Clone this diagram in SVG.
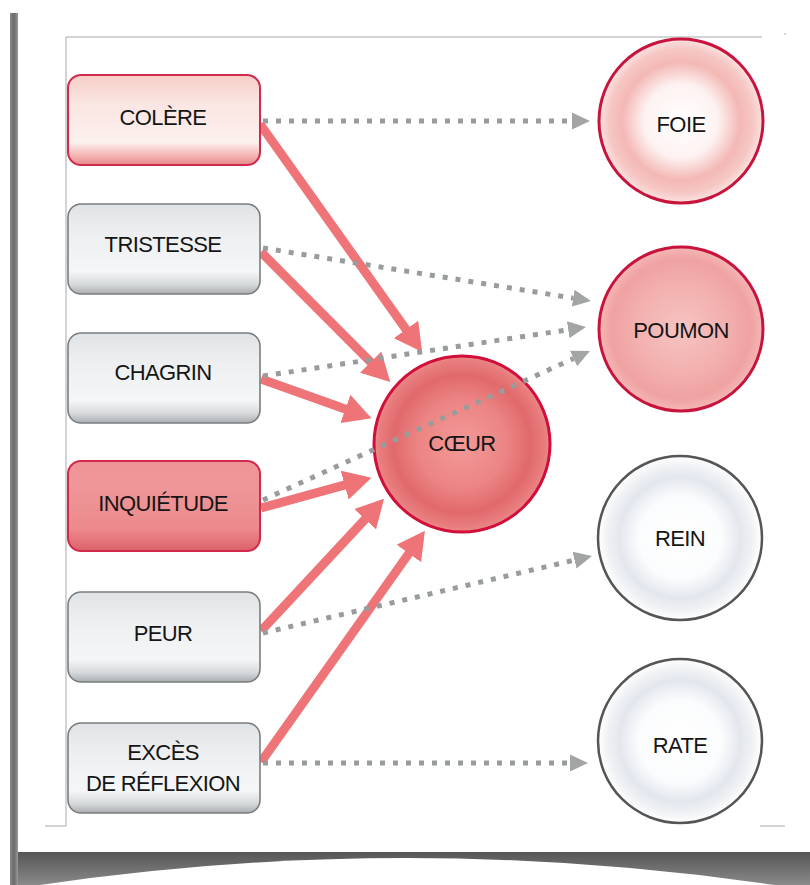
<svg xmlns="http://www.w3.org/2000/svg" width="810" height="885" viewBox="0 0 810 885">
<defs>
<style>
.lbl{font-family:"Liberation Sans",Arial,sans-serif;font-size:22px;fill:#151515;text-anchor:middle;letter-spacing:-0.6px}
.red{stroke:#ee7478;stroke-width:9;fill:none;marker-end:url(#rh)}
.dot{stroke:#999c9c;stroke-width:5;stroke-dasharray:5 8;fill:none;marker-end:url(#gh)}
.frame{stroke:#a8a8a8;stroke-width:1;fill:none}
.boxr{stroke:#d22a4c;stroke-width:2}
.boxg{stroke:#7a7d7f;stroke-width:1.6}
</style>
<marker id="rh" markerUnits="userSpaceOnUse" markerWidth="30" markerHeight="30" refX="4" refY="14" orient="auto" viewBox="0 0 28 28">
<path d="M0,0 L26,14 L0,28 Z" fill="#ee7478"/>
</marker>
<marker id="gh" markerUnits="userSpaceOnUse" markerWidth="20" markerHeight="18" refX="0" refY="8.5" orient="auto" viewBox="0 0 20 17">
<path d="M0,0 L18,8.5 L0,17 Z" fill="#a3a5a5"/>
</marker>
<linearGradient id="gGray" x1="0" y1="0" x2="0" y2="1">
<stop offset="0" stop-color="#e0e3e5"/><stop offset="0.3" stop-color="#eceef0"/><stop offset="0.75" stop-color="#f5f6f7"/><stop offset="0.9" stop-color="#d5d8da"/><stop offset="1" stop-color="#a9adaf"/>
</linearGradient>
<linearGradient id="gPink" x1="0" y1="0" x2="0" y2="1">
<stop offset="0" stop-color="#f6cdc6"/><stop offset="0.3" stop-color="#fae5e1"/><stop offset="0.75" stop-color="#fcf0ef"/><stop offset="0.9" stop-color="#f3b3b0"/><stop offset="1" stop-color="#e8898d"/>
</linearGradient>
<linearGradient id="gRed" x1="0" y1="0" x2="0" y2="1">
<stop offset="0" stop-color="#ee9496"/><stop offset="0.3" stop-color="#ef9698"/><stop offset="0.75" stop-color="#ec8a8d"/><stop offset="0.9" stop-color="#e47276"/><stop offset="1" stop-color="#d9616b"/>
</linearGradient>
<radialGradient id="rFoie">
<stop offset="0" stop-color="#ffffff"/><stop offset="0.45" stop-color="#fdf2f1"/><stop offset="0.72" stop-color="#f3b8b5"/><stop offset="0.88" stop-color="#f6c7c4"/><stop offset="1" stop-color="#fbe3e1"/>
</radialGradient>
<radialGradient id="rPoumon">
<stop offset="0" stop-color="#f6c4c2"/><stop offset="0.6" stop-color="#f2aeac"/><stop offset="0.85" stop-color="#efa2a1"/><stop offset="1" stop-color="#f4b7b6"/>
</radialGradient>
<radialGradient id="rCoeur">
<stop offset="0" stop-color="#f29a98"/><stop offset="0.5" stop-color="#ec8584"/><stop offset="0.78" stop-color="#e1696c"/><stop offset="0.92" stop-color="#e77a7b"/><stop offset="1" stop-color="#ec8888"/>
</radialGradient>
<radialGradient id="rGray">
<stop offset="0" stop-color="#ffffff"/><stop offset="0.5" stop-color="#fbfcfd"/><stop offset="0.74" stop-color="#e3e7ed"/><stop offset="0.88" stop-color="#eff1f4"/><stop offset="1" stop-color="#ffffff"/>
</radialGradient>
<linearGradient id="gEdge" x1="0" y1="0" x2="1" y2="0">
<stop offset="0" stop-color="#8a8a8a"/><stop offset="0.5" stop-color="#6a6a6a"/><stop offset="1" stop-color="#9a9a9a"/>
</linearGradient>
<linearGradient id="gShadow" x1="0" y1="0" x2="0" y2="1">
<stop offset="0" stop-color="#555555"/><stop offset="1" stop-color="#8a8a8a"/>
</linearGradient>
</defs>
<rect width="810" height="885" fill="#ffffff"/>
<g id="paper">
<rect x="10" y="852" width="800" height="33" fill="url(#gShadow)"/>
<path d="M40,885 Q405,831 775,885 Z" fill="#ffffff"/>
<rect x="10" y="13" width="8" height="872" fill="url(#gEdge)"/>
<path class="frame" d="M66,37 H762 M66,37 V826 M45,826 H66 M760,826 H785 M784,34 h2"/>
</g>
<g id="connectors-red">
<line class="red" x1="260" y1="124" x2="408.5" y2="332.9"/>
<line class="red" x1="261" y1="252" x2="373.7" y2="365.2"/>
<line class="red" x1="261" y1="379" x2="349.4" y2="410.4"/>
<line class="red" x1="261" y1="508" x2="348.8" y2="483.9"/>
<line class="red" x1="261" y1="631" x2="368" y2="516.1"/>
<line class="red" x1="261" y1="762" x2="411.3" y2="550"/>
</g>
<g id="node-colere"><rect class="boxr" x="68" y="75" width="192" height="90" rx="13" fill="url(#gPink)"/><text class="lbl" x="163" y="125">COLÈRE</text></g>
<g id="node-tristesse"><rect class="boxg" x="68" y="204" width="192" height="90" rx="13" fill="url(#gGray)"/><text class="lbl" x="163" y="252">TRISTESSE</text></g>
<g id="node-chagrin"><rect class="boxg" x="68" y="333" width="192" height="90" rx="13" fill="url(#gGray)"/><text class="lbl" x="163" y="380">CHAGRIN</text></g>
<g id="node-inquietude"><rect class="boxr" x="68" y="461" width="192" height="90" rx="13" fill="url(#gRed)"/><text class="lbl" x="163" y="511">INQUIÉTUDE</text></g>
<g id="node-peur"><rect class="boxg" x="68" y="592" width="192" height="90" rx="13" fill="url(#gGray)"/><text class="lbl" x="163" y="641">PEUR</text></g>
<g id="node-exces"><rect class="boxg" x="68" y="723" width="192" height="90" rx="13" fill="url(#gGray)"/><text class="lbl" x="163" y="760">EXCÈS</text><text class="lbl" x="163" y="791">DE RÉFLEXION</text></g>
<g id="node-coeur"><circle cx="462" cy="444" r="88" fill="url(#rCoeur)" stroke="#d10f3a" stroke-width="3"/><text class="lbl" x="462" y="451">CŒUR</text></g>
<g id="node-foie"><circle cx="681" cy="121" r="82" fill="url(#rFoie)" stroke="#c8143c" stroke-width="3"/><text class="lbl" x="681" y="132">FOIE</text></g>
<g id="node-poumon"><circle cx="681" cy="329" r="82" fill="url(#rPoumon)" stroke="#c8143c" stroke-width="3"/><text class="lbl" x="681" y="338">POUMON</text></g>
<g id="node-rein"><circle cx="680" cy="538" r="82" fill="url(#rGray)" stroke="#555555" stroke-width="2.5"/><text class="lbl" x="680" y="546">REIN</text></g>
<g id="node-rate"><circle cx="680" cy="741" r="82" fill="url(#rGray)" stroke="#555555" stroke-width="2.5"/><text class="lbl" x="680" y="753">RATE</text></g>
<g id="connectors-dotted">
<line class="dot" x1="263" y1="121" x2="572" y2="121"/>
<line class="dot" x1="263" y1="248" x2="573.2" y2="298.1"/>
<line class="dot" x1="263" y1="376" x2="568.2" y2="329.7"/>
<line class="dot" x1="263" y1="500" x2="573.6" y2="358.5"/>
<line class="dot" x1="263" y1="633" x2="574.5" y2="560.1"/>
<line class="dot" x1="263" y1="763" x2="570" y2="763"/>
</g>
</svg>
